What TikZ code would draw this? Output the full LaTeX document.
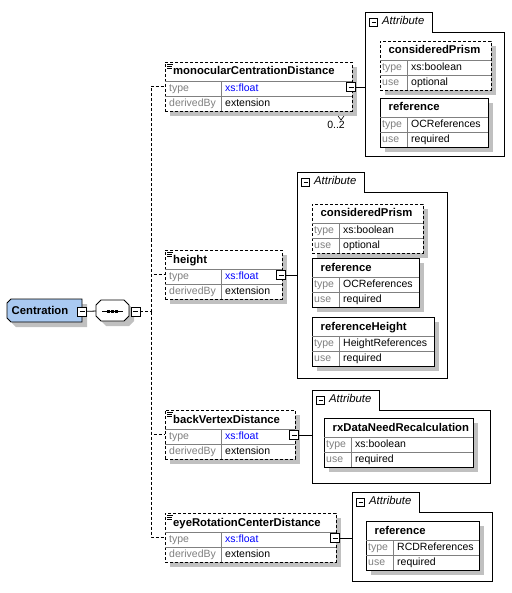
\documentclass[tikz,border=0pt]{standalone}
\usepackage{fontspec}
\setmainfont{Liberation Sans}
\usepackage{xcolor}
\usepackage{tikz}
\usetikzlibrary{calc}

\definecolor{shadowgray}{RGB}{192,192,192}
\definecolor{gridgray}{RGB}{128,128,128}
\definecolor{keygray}{RGB}{128,128,128}
\definecolor{valblue}{RGB}{0,0,255}
\definecolor{rootblue}{RGB}{169,201,241}

\tikzset{
  conn/.style={line width=0.8pt},
  optconn/.style={line width=0.8pt, dash pattern=on 3pt off 2pt},
  shadowfill/.style={fill=shadowgray, draw=none},
  boxframe/.style={draw, fill=white, line width=0.8pt, inner sep=0pt,
    outer sep=0pt, anchor=north west},
  optframe/.style={dash pattern=on 3pt off 2pt},
  reqframe/.style={solid},
  gridline/.style={draw=gridgray, line width=0.7pt},
  titletext/.style={font=\fontsize{11.3}{13}\selectfont\bfseries, inner sep=0pt,
    text height=8pt, text depth=2pt, anchor=west},
  keytext/.style={font=\fontsize{10.5}{12}\selectfont, text=keygray, inner sep=0pt,
    text height=7.5pt, text depth=2pt, anchor=west},
  valtext/.style={font=\fontsize{10.5}{12}\selectfont, inner sep=0pt,
    text height=7.5pt, text depth=2pt, anchor=west},
  attrtext/.style={font=\fontsize{11.3}{13}\selectfont\itshape, inner sep=0pt,
    text height=7.5pt, text depth=2pt, anchor=west},
  minusbox/.style={draw, fill=white, line width=0.8pt, minimum size=9pt, inner sep=0pt,
    path picture={\draw[line width=0.8pt]
      ([xshift=2pt]path picture bounding box.west) --
      ([xshift=-2pt]path picture bounding box.east);}},
}

% child element: name, left, top, width, title
\newcommand{\elembox}[5]{%
  \fill[shadowfill] ({#2+5},{#3+5}) rectangle ({#2+#4+5},{#3+54});
  \node[boxframe, optframe, minimum width=#4pt, minimum height=49pt] (#1) at (#2,#3) {};
  \draw[gridline] (#2,{#3+19.5}) -- ({#2+#4},{#3+19.5});
  \draw[gridline] (#2,{#3+34.5}) -- ({#2+#4},{#3+34.5});
  \draw[gridline] ({#2+56},{#3+19.5}) -- ({#2+56},{#3+49});
  \foreach \k/\l in {0/6,2/5,4/5}
    \draw[line width=0.6pt] ({#2+2},{#3+2+\k}) -- ++(\l,0);
  \node[titletext] (#1-t) at ({#2+8},{#3+10}) {#5};
  \node[keytext] (#1-k1) at ({#2+4},{#3+27}) {type};
  \node[valtext, text=valblue] (#1-v1) at ({#2+60},{#3+27}) {xs:float};
  \node[keytext] (#1-k2) at ({#2+4},{#3+42}) {derivedBy};
  \node[valtext] (#1-v2) at ({#2+60},{#3+42}) {extension};
  \node[minusbox] (#1-m) at ({#2+#4-1},{#3+25}) {};
  \coordinate (#1-in) at (#2,{#3+24});
}

% attribute group: name, left, tab top, right, bottom
\newcommand{\attrgroup}[5]{%
  \node[inner sep=0pt, outer sep=0pt, anchor=north west,
    minimum width={#4-#2}, minimum height={#5-#3-20}] (#1) at (#2,{#3+20}) {};
  \draw[line width=0.8pt] (#2,#5) -- (#2,#3) -- ({#2+67},#3) -- ({#2+67},{#3+20})
    -- (#4,{#3+20}) -- (#4,#5) -- cycle;
  \node[minusbox, minimum size=8pt] (#1-m) at ({#2+8.5},{#3+10}) {};
  \node[attrtext] (#1-t) at ({#2+17},{#3+10}) {Attribute};
}

% attribute: name, left, top, width, title, type, use, frame
\newcommand{\attrbox}[8]{%
  \fill[shadowfill] ({#2+5},{#3+5}) rectangle ({#2+#4+5},{#3+54});
  \node[boxframe, #8, minimum width=#4pt, minimum height=49pt] (#1) at (#2,#3) {};
  \draw[gridline] (#2,{#3+19.5}) -- ({#2+#4},{#3+19.5});
  \draw[gridline] (#2,{#3+34.5}) -- ({#2+#4},{#3+34.5});
  \draw[gridline] ({#2+27},{#3+19.5}) -- ({#2+27},{#3+49});
  \node[titletext] (#1-t) at ({#2+8.5},{#3+10}) {#5};
  \node[keytext] (#1-k1) at ({#2+2},{#3+27}) {type};
  \node[valtext] (#1-v1) at ({#2+31},{#3+27}) {#6};
  \node[keytext] (#1-k2) at ({#2+2},{#3+42}) {use};
  \node[valtext] (#1-v2) at ({#2+31},{#3+42}) {#7};
}

\begin{document}
\begin{tikzpicture}[x=1pt, y=-1pt]
  % Canvas
  \fill[white] (0,0) rectangle (511,593);
  \useasboundingbox (0,0) rectangle (511,593);

  % Root element
  \fill[shadowfill] (16,304) -- (87,304) -- (87,327) -- (16,327) -- (12,323)
    -- (12,308) -- cycle;
  \filldraw[fill=rootblue, line width=0.8pt] (11,299) -- (82,299) -- (82,322)
    -- (11,322) -- (7,318) -- (7,303) -- cycle;
  \node[titletext, anchor=center] (centr) at (40,311) {Centration};
  \node[minusbox] (centr-m) at (82,311.5) {};

  % Sequence compositor
  \fill[shadowfill] (106,305) -- (129,305) -- (134,310) -- (134,321) -- (129,326)
    -- (106,326) -- (101,321) -- (101,310) -- cycle;
  \filldraw[fill=white, line width=0.8pt] (101,300) -- (124,300) -- (129,305)
    -- (129,316) -- (124,321) -- (101,321) -- (96,316) -- (96,305) -- cycle;
  \node[inner sep=0pt, outer sep=0pt, minimum width=33pt, minimum height=21pt]
    (seq) at (112.5,310.5) {};
  \draw[line width=1pt] ($(seq.center)+(-10.5,0.5)$) -- ($(seq.center)+(10.5,0.5)$);
  \foreach \dx in {-4,0,4}
    \fill ($(seq.center)+(\dx-1.5,-1)$) rectangle ($(seq.center)+(\dx+1.5,2)$);
  \node[minusbox] (seq-m) at (135.5,311.5) {};

  \draw[conn] (centr-m) -- (seq);

  % Child elements
  \elembox{mono}{165}{62}{187}{monocularCentrationDistance}
  \elembox{hgt}{165}{250}{117}{height}
  \elembox{bvd}{165}{410}{130}{backVertexDistance}
  \elembox{erc}{165}{513}{171}{eyeRotationCenterDistance}

  % Occurrence of monocularCentrationDistance
  \draw[line width=0.6pt] (338,116) -- (341,120) -- (344,116);
  \node[valtext, anchor=center] (mono-occ) at (336,126) {0..2};

  % Sequence branches
  \coordinate (bus) at (151,311.5);
  \draw[optconn] (seq-m) -- (bus);
  \foreach \e in {mono,hgt,bvd,erc}
    \draw[optconn] (bus) |- (\e-in);

  % Attributes
  \attrgroup{monoattr}{365}{12}{504}{156}
  \attrbox{monoprism}{380}{41}{111}{consideredPrism}{xs:boolean}{optional}{optframe}
  \attrbox{monoref}{380}{98}{108}{reference}{OCReferences}{required}{reqframe}

  \attrgroup{hgtattr}{297}{172}{447}{378}
  \attrbox{hgtprism}{312}{204}{111}{consideredPrism}{xs:boolean}{optional}{optframe}
  \attrbox{hgtref}{312}{258}{107}{reference}{OCReferences}{required}{reqframe}
  \attrbox{hgtrefh}{312}{317}{122}{referenceHeight}{HeightReferences}{required}{reqframe}

  \attrgroup{bvdattr}{312}{390}{490}{483}
  \attrbox{bvdrx}{324}{418}{149}{rxDataNeedRecalculation}{xs:boolean}{required}{reqframe}

  \attrgroup{ercattr}{352}{492}{492}{581}
  \attrbox{ercref}{366}{521}{113}{reference}{RCDReferences}{required}{reqframe}

  % Element to attribute links
  \foreach \e in {mono,hgt,bvd,erc}
    \draw[conn] (\e-m) -- (\e-m -| \e attr.west);
\end{tikzpicture}
\end{document}
